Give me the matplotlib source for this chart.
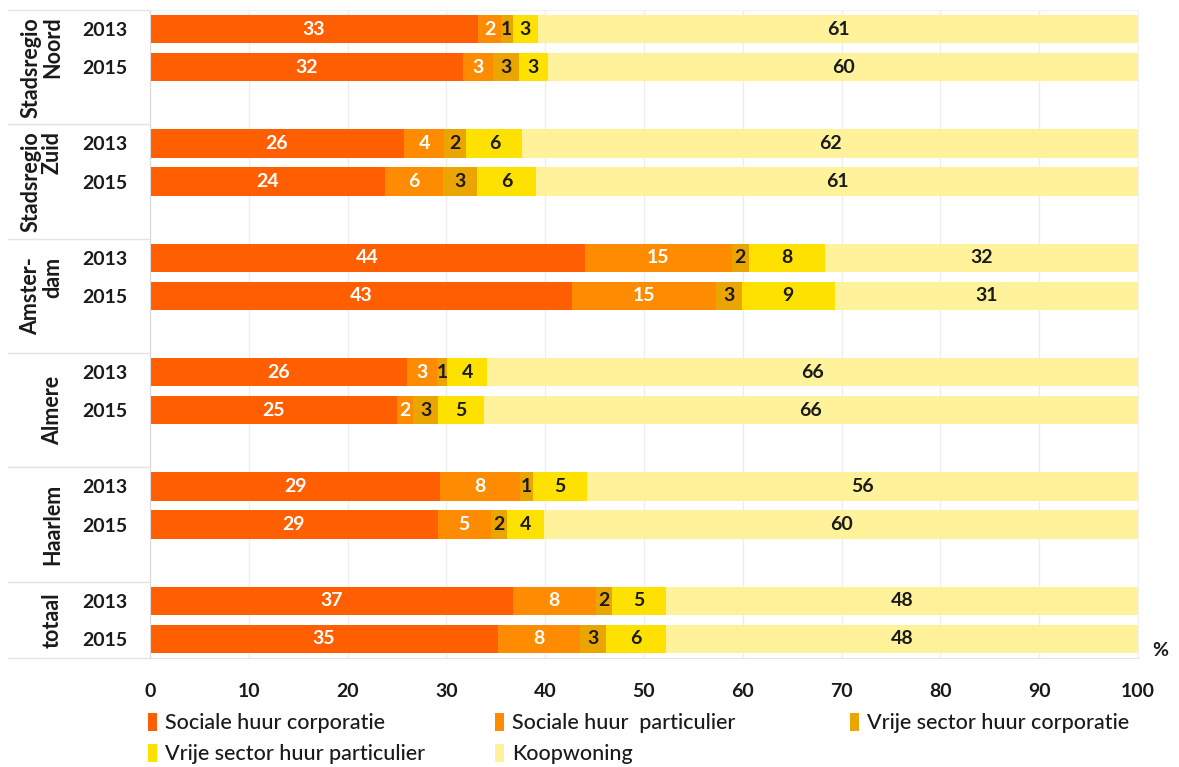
import numpy as np
import matplotlib
matplotlib.use("Agg")
import matplotlib.pyplot as plt

plt.rcParams['font.family'] = ['Lato', 'DejaVu Sans']

groups = ["Stadsregio\nNoord", "Stadsregio\nZuid", "Amster-\ndam", "Almere", "Haarlem", "totaal"]
years = ["2013", "2015"]
series = ["Sociale huur corporatie", "Sociale huur  particulier", "Vrije sector huur corporatie",
          "Vrije sector huur particulier", "Koopwoning"]
colors = ["#FF5F00", "#FF8C00", "#EBA500", "#FFE100", "#FFF29B"]
label_colors = ["white", "white", "#1a1a1a", "#1a1a1a", "#1a1a1a"]

# percentages per row (group x year)
soc_corp = [33.2, 31.7, 25.7, 23.8, 44.0, 42.7, 26.0, 25.0, 29.4, 29.1, 36.7, 35.2]
soc_part = [2.3, 3.0, 4.1, 5.9, 14.9, 14.6, 3.0, 1.6, 8.0, 5.4, 8.4, 8.3]
vrij_corp = [1.2, 2.6, 2.2, 3.4, 1.7, 2.6, 1.1, 2.6, 1.4, 1.6, 1.7, 2.7]
vrij_part = [2.6, 3.0, 5.7, 6.0, 7.7, 9.4, 4.0, 4.6, 5.4, 3.8, 5.4, 6.0]
koop = [60.7, 59.7, 62.3, 60.9, 31.7, 30.7, 65.9, 66.2, 55.8, 60.1, 47.8, 47.8]

data = np.array([soc_corp, soc_part, vrij_corp, vrij_part, koop])

fig = plt.figure(figsize=(11.79, 7.67), dpi=100)
ax = fig.add_axes([150/1179, 1 - 658/767, 988/1179, 648/767])

ypos = []
for g in range(len(groups)):
    ypos += [3*g, 3*g + 1]
ypos = np.array(ypos)

left = np.zeros(len(ypos))
bars = []
for i in range(len(series)):
    b = ax.barh(ypos, data[i], left=left, height=0.74, color=colors[i], label=series[i], zorder=2)
    bars.append(b)
    for y, l, v in zip(ypos, left, data[i]):
        ax.text(l + v/2, y, str(int(round(v))), ha="center", va="center",
                color=label_colors[i], fontsize=14, fontweight="bold", zorder=3)
    left = left + data[i]

ax.set_xlim(0, 100)
ax.set_ylim(16.5, -0.5)
ax.set_xticks(range(0, 101, 10))
ax.set_yticks(ypos)
ax.set_yticklabels(years * len(groups))
ax.tick_params(axis="both", length=0, labelsize=14, colors="#1a1a1a")
ax.tick_params(axis="x", pad=18)
ax.tick_params(axis="y", pad=16)
for t in ax.get_xticklabels() + ax.get_yticklabels():
    t.set_fontweight("bold")
ax.grid(axis="x", color="#EDEDED", lw=1, zorder=0)
for s in ["top", "right"]:
    ax.spines[s].set_color("#F2F2F2")
ax.spines["left"].set_color("#D9D9D9")
ax.spines["bottom"].set_color("#E3E3E3")

# group separators and labels on the left
tr = ax.get_yaxis_transform()
bounds = [-0.5, 2.5, 5.5, 8.5, 11.5, 14.5, 16.5]
for yb in bounds:
    ax.plot([-0.144, 0], [yb, yb], transform=tr, color="#E3E3E3", lw=1, clip_on=False)
for g, name in enumerate(groups):
    yc = (bounds[g] + bounds[g+1]) / 2
    ax.text(-0.088, yc, name, transform=tr, rotation=90, ha="right", va="center",
            fontsize=15.5, fontweight="bold", color="#1a1a1a", linespacing=1.05)

fig.text(1160/1179, 1 - 650/767, "%", fontsize=14, fontweight="bold", color="#1a1a1a",
         ha="center", va="center")

# legend in three columns, filled row by row
cols = [[0, 3], [1, 4], [2]]
xs = [139, 486, 841]
for c, x in zip(cols, xs):
    leg = fig.legend([bars[i] for i in c], [series[i] for i in c], loc="upper left",
                     bbox_to_anchor=(x/1179, 1 - 704/767), frameon=False, fontsize=15.5,
                     handlelength=0.42, handleheight=0.95, handletextpad=0.4,
                     labelspacing=0.48, borderaxespad=0)
    for t in leg.get_texts():
        t.set_color("#1a1a1a")
        t.set_fontweight("medium")

fig.savefig("out.png", dpi=100)
